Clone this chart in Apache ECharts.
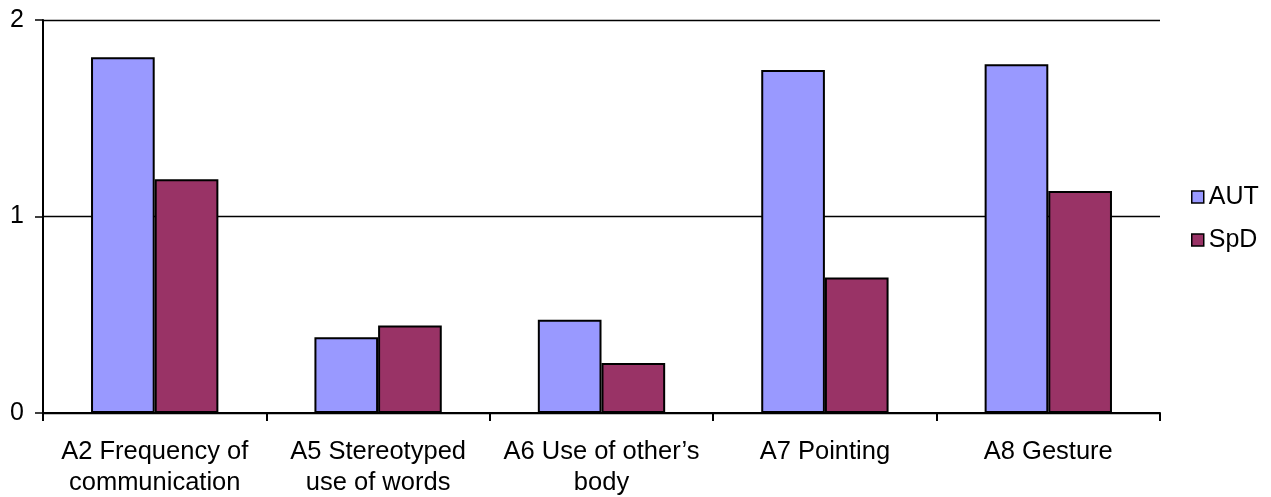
<!DOCTYPE html>
<html>
<head>
<meta charset="utf-8">
<script src="https://cdn.jsdelivr.net/npm/echarts@6/dist/echarts.min.js"></script>
<style>
  html, body { margin: 0; padding: 0; background: #fff; }
  #chart { width: 1271px; height: 497px; }
</style>
</head>
<body>
<div id="chart"></div>
<script>
// Communication item scores by group
const categories = [
  'A2 Frequency of\ncommunication',
  'A5 Stereotyped\nuse of words',
  'A6 Use of other\u2019s\nbody',
  'A7 Pointing',
  'A8 Gesture'
];
const seriesNames = ['AUT', 'SpD'];
const autValues = [1.81, 0.385, 0.475, 1.745, 1.775];
const spdValues = [1.19, 0.445, 0.255, 0.69, 1.13];
const yTicks = [0, 1, 2];

const FONT = 'Liberation Sans, Arial, sans-serif';
const chart = echarts.init(document.getElementById('chart'), null, { renderer: 'canvas' });

chart.setOption({
  animation: false,
  backgroundColor: '#ffffff',
  textStyle: { fontFamily: FONT },
  grid: { left: 43, right: 111, top: 20, bottom: 84, containLabel: false, outerBoundsMode: 'none' },
  legend: {
    orient: 'vertical',
    left: 1191,
    top: 183,
    padding: 0,
    itemWidth: 12,
    itemHeight: 12,
    itemGap: 15,
    icon: 'rect',
    data: seriesNames,
    itemStyle: { borderColor: '#000', borderWidth: 1.5 },
    textStyle: { fontFamily: FONT, fontSize: 25, color: '#000', lineHeight: 28 },
    selectedMode: false
  },
  xAxis: {
    type: 'category',
    data: categories,
    axisLine: { lineStyle: { color: '#000', width: 2 } },
    axisTick: { show: true, length: 8, lineStyle: { color: '#000', width: 2 } },
    axisLabel: {
      interval: 0,
      margin: 23,
      fontFamily: FONT,
      fontSize: 25.5,
      lineHeight: 31,
      color: '#000',
      align: 'center'
    }
  },
  yAxis: {
    type: 'value',
    min: yTicks[0],
    max: yTicks[yTicks.length - 1],
    interval: 1,
    axisLine: { show: true, lineStyle: { color: '#000', width: 2 } },
    axisTick: { show: true, length: 8, lineStyle: { color: '#000', width: 1.5 } },
    axisLabel: { margin: 19, fontFamily: FONT, fontSize: 25, color: '#000', padding: [4, 0, 0, 0] },
    splitLine: { show: true, lineStyle: { color: '#000', width: 1.3 } }
  },
  series: [
    {
      name: seriesNames[0],
      type: 'bar',
      data: autValues,
      barGap: '0%',
      barCategoryGap: '43%',
      itemStyle: { color: '#9999FF', borderColor: '#000', borderWidth: 2 }
    },
    {
      name: seriesNames[1],
      type: 'bar',
      data: spdValues,
      barGap: '0%',
      barCategoryGap: '43%',
      itemStyle: { color: '#993366', borderColor: '#000', borderWidth: 2 }
    }
  ]
});
</script>
</body>
</html>
